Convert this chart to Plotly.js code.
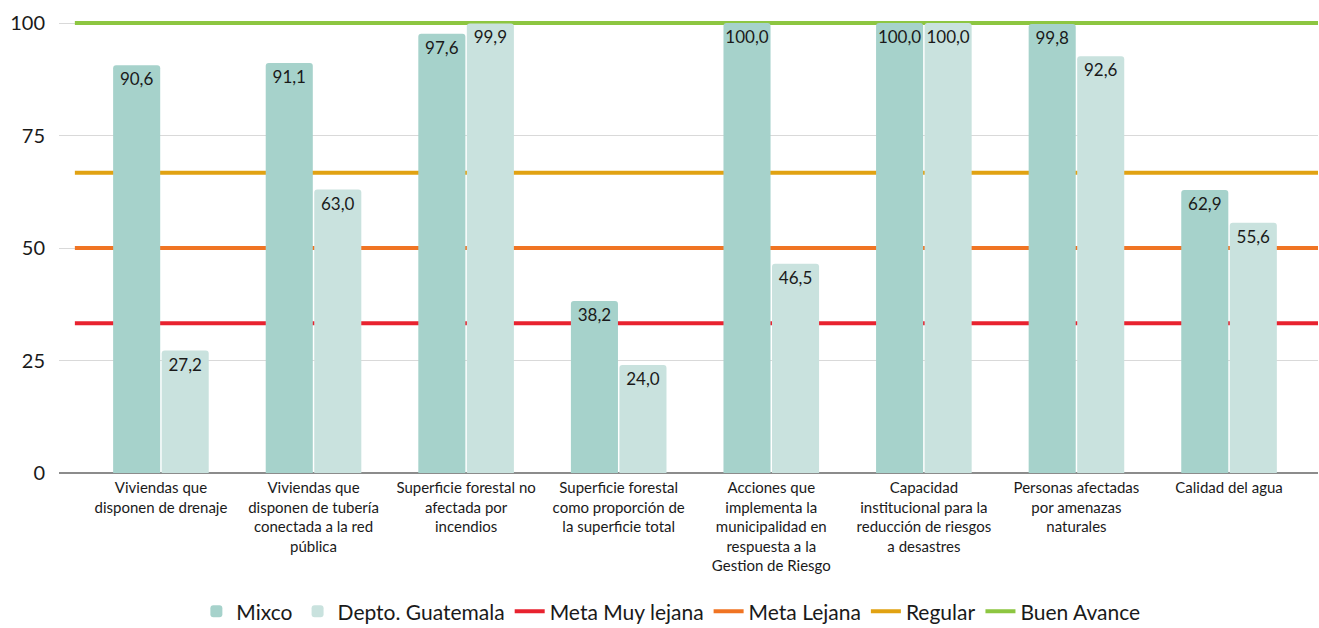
<!DOCTYPE html>
<html>
<head>
<meta charset="utf-8">
<script src="https://cdn.plot.ly/plotly-3.0.1.min.js"></script>
<style>html,body{margin:0;padding:0;background:#fff;}#chart{width:1319px;height:628px;}</style>
</head>
<body>
<div id="chart"></div>
<script>
const categories = [
  "Viviendas que<br>disponen de drenaje",
  "Viviendas que<br>disponen de tubería<br>conectada a la red<br>pública",
  "Superficie forestal no<br>afectada por<br>incendios",
  "Superficie forestal<br>como proporción de<br>la superficie total",
  "Acciones que<br>implementa la<br>municipalidad en<br>respuesta a la<br>Gestion de Riesgo",
  "Capacidad<br>institucional para la<br>reducción de riesgos<br>a desastres",
  "Personas afectadas<br>por amenazas<br>naturales",
  "Calidad del agua"
];
const mixco = [90.6, 91.1, 97.6, 38.2, 100.0, 100.0, 99.8, 62.9];
const guatemala = [27.2, 63.0, 99.9, 24.0, 46.5, 100.0, 92.6, 55.6];
const thresholdNames = ["Meta Muy lejana", "Meta Lejana", "Regular", "Buen Avance"];
const thresholdValues = [33.3, 50, 66.7, 100];
const thresholdColors = ["#e8222f", "#f07423", "#e1a212", "#8dc641"];

const idx = categories.map((_, i) => i);
const xMin = -0.668, xMax = 7.583, lineStart = -0.564;
const yRange = [0, 102];

const font = "Lato, 'Open Sans', sans-serif";
const traces = [];
thresholdNames.forEach((name, k) => {
  traces.push({
    type: "scatter", mode: "lines", name: name,
    x: [lineStart, xMax], y: [thresholdValues[k], thresholdValues[k]],
    line: {color: thresholdColors[k], width: 4},
    hoverinfo: "skip", legendrank: 3 + k, xaxis: "x", yaxis: "y"
  });
});
traces.push({
  type: "bar", name: "Mixco", x: idx, y: mixco, xaxis: "x2", yaxis: "y2",
  marker: {color: "#a6d2cb", cornerradius: 3},
  texttemplate: "%{y:.1f}", textposition: "inside", insidetextanchor: "end",
  textangle: 0, constraintext: "none",
  textfont: {family: font, size: 17, color: "#1a1a1a"}, legendrank: 1
});
traces.push({
  type: "bar", name: "Depto. Guatemala", x: idx, y: guatemala, xaxis: "x2", yaxis: "y2",
  marker: {color: "#c9e2de", cornerradius: 3},
  texttemplate: "%{y:.1f}", textposition: "inside", insidetextanchor: "end",
  textangle: 0, constraintext: "none",
  textfont: {family: font, size: 17, color: "#1a1a1a"}, legendrank: 2
});

const layout = {
  width: 1319, height: 628,
  margin: {l: 59, r: 1, t: 14, b: 155},
  paper_bgcolor: "#fff", plot_bgcolor: "#fff",
  separators: ",.",
  font: {family: font, color: "#1a1a1a"},
  barmode: "group", bargap: 0.364, bargroupgap: 0.03,
  showlegend: true,
  legend: {orientation: "h", x: 0.486, xanchor: "center", yref: "container",
           y: 0.026, yanchor: "middle", itemwidth: 30,
           font: {size: 21, color: "#1a1a1a"}, traceorder: "normal"},
  xaxis: {
    range: [xMin, xMax], tickmode: "array", tickvals: idx, ticktext: categories,
    showgrid: false, zeroline: false, showline: false, ticks: "", automargin: false,
    tickfont: {size: 15, color: "#1a1a1a"}, ticklabelstandoff: 4, fixedrange: true
  },
  yaxis: {
    range: yRange, tickvals: [0, 25, 50, 75, 100], automargin: false,
    showgrid: true, gridcolor: "#d9d9d9", gridwidth: 1,
    zeroline: true, zerolinecolor: "#8c8c8c", zerolinewidth: 2,
    showline: false, ticks: "", ticklabelstandoff: 13,
    tickfont: {size: 20, color: "#1a1a1a"}, fixedrange: true
  },
  xaxis2: {overlaying: "x", range: [xMin, xMax], showgrid: false, zeroline: false,
           showticklabels: false, ticks: "", fixedrange: true},
  yaxis2: {overlaying: "y", range: yRange, showgrid: false, zeroline: false,
           showticklabels: false, ticks: "", fixedrange: true}
};
Plotly.newPlot("chart", traces, layout, {displayModeBar: false, staticPlot: true});
</script>
</body>
</html>
